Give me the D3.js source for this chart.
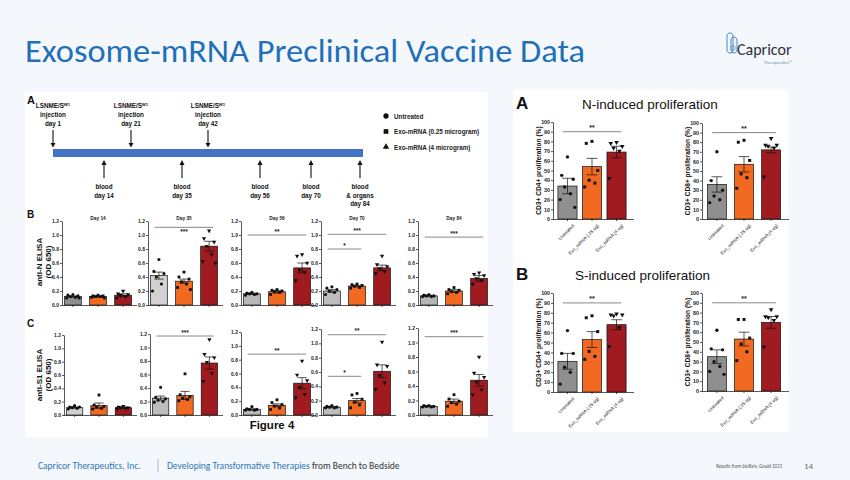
<!DOCTYPE html>
<html><head><meta charset="utf-8">
<script src="https://cdn.jsdelivr.net/npm/d3@7"></script>
<style>body{margin:0;background:#f4f8fc;} svg{display:block}</style>
</head><body><svg id="c" width="850" height="480"></svg>
<script>
// ---------------- DATA ----------------
const groups = ["Untreated", "Exo_mRNA (.25 ug)", "Exo_mRNA (4 ug)"];
const legendLabels = ["Untreated", "Exo-mRNA (0.25 microgram)", "Exo-mRNA (4 microgram)"];
const injectionDays = ["day 1", "day 21", "day 42"];
const bloodDays = [["blood","day 14"],["blood","day 35"],["blood","day 56"],["blood","day 70"],["blood","& organs","day 84"]];
const elisaDays = ["Day 14","Day 35","Day 56","Day 70","Day 84"];
const elisaTicks = [0, 0.2, 0.4, 0.6, 0.8, 1.0, 1.2];

const antiNMeans  = [[0.12,0.12,0.14],[0.42,0.34,0.84],[0.16,0.19,0.53],[0.20,0.27,0.53],[0.13,0.20,0.38]];
const antiNErrors = [[0.01,0.01,0.02],[0.05,0.03,0.07],[0.01,0.02,0.07],[0.02,0.01,0.04],[0.01,0.02,0.04]];
const antiNPoints = [
  [[0.15,0.14,0.13,0.12,0.11,0.10,0.10],[0.14,0.13,0.13,0.12,0.12,0.11,0.10],[0.20,0.16,0.15,0.14,0.12,0.10]],
  [[0.65,0.48,0.45,0.40,0.30,0.20],[0.47,0.40,0.37,0.33,0.30,0.25,0.22],[1.06,0.95,0.90,0.84,0.72,0.62,0.60]],
  [[0.18,0.17,0.16,0.16,0.15,0.14],[0.22,0.21,0.20,0.19,0.18,0.15],[0.72,0.70,0.60,0.50,0.47,0.35]],
  [[0.26,0.24,0.22,0.20,0.18,0.15],[0.30,0.29,0.28,0.27,0.25,0.24],[0.70,0.58,0.55,0.52,0.48,0.45]],
  [[0.15,0.14,0.13,0.13,0.12,0.12],[0.25,0.22,0.21,0.19,0.18,0.16],[0.46,0.44,0.42,0.38,0.35,0.30]]
];
const antiNSig = [[], [[0,2,1.11,"***",1]], [[0,2,1.0,"**",0]], [[0,2,1.01,"***",0],[0,1,0.80,"*",0]], [[0,2,0.97,"***",0]]];

const antiS1Means  = [[0.11,0.14,0.11],[0.25,0.29,0.77],[0.08,0.14,0.46],[0.11,0.20,0.61],[0.12,0.19,0.48]];
const antiS1Errors = [[0.01,0.04,0.01],[0.03,0.06,0.09],[0.01,0.02,0.08],[0.01,0.03,0.09],[0.01,0.03,0.08]];
const antiS1Points = [
  [[0.14,0.12,0.12,0.11,0.10,0.09],[0.30,0.15,0.13,0.12,0.10,0.09],[0.13,0.12,0.11,0.11,0.10,0.09]],
  [[0.41,0.26,0.24,0.22,0.20,0.19],[0.61,0.30,0.27,0.25,0.23,0.21],[1.12,0.90,0.85,0.78,0.62,0.50]],
  [[0.12,0.09,0.08,0.08,0.07,0.07],[0.22,0.18,0.15,0.13,0.10,0.08],[0.78,0.58,0.50,0.40,0.30,0.25]],
  [[0.13,0.12,0.11,0.11,0.10,0.10],[0.30,0.28,0.22,0.18,0.14,0.10],[1.02,0.70,0.68,0.55,0.45,0.36]],
  [[0.13,0.13,0.12,0.12,0.11,0.11],[0.28,0.22,0.19,0.17,0.15,0.12],[0.80,0.58,0.52,0.45,0.35,0.28]]
];
const antiS1Sig = [[], [[0,2,1.17,"***",0]], [[0,2,0.88,"**",0]], [[0,2,1.12,"**",0],[0,1,0.54,"*",0]], [[0,2,1.08,"***",0]]];

const prolifTicks = [0,10,20,30,40,50,60,70,80,90,100];
const nCD4Means = [34,54,69], nCD4Errors = [8,8.5,6];
const nCD4Points = [[64,45,41,33,26,20,12],[80,78,50,40,37,33],[79,78,75,73,70,42]];
const nCD8Means = [36,57,72], nCD8Errors = [8,8,3];
const nCD8Points = [[70,40,30,24,20,17],[82,80,61,47,43,32],[84,77,77,76,74,44]];
const sCD4Means = [31,53,68], sCD4Errors = [8,8,5];
const sCD4Points = [[62,39,39,25,20,8],[77,75,61,41,36,33],[79,78,78,77,65,46]];
const sCD8Means = [35,53,70], sCD8Errors = [7,7,6];
const sCD8Points = [[62,43,42,30,25,20,17],[73,73,54,48,40,31],[83,76,76,75,72,45]];
const prolifSig = [[0,2,90,"**",0]];

// ---------------- STYLE ----------------
const ORANGE = "#f26a22", RED = "#a01b20";
const FIG = "'Liberation Sans', Arial, sans-serif";
const SLIDE = "Carlito, Lato, 'Open Sans', sans-serif";

const svg = d3.select("#c");
svg.append("rect").attr("width",850).attr("height",480).attr("fill","#f4f8fc");

// title
svg.append("text").attr("x",25).attr("y",62).attr("font-family",SLIDE).attr("font-size",33)
  .attr("textLength",560).attr("lengthAdjust","spacingAndGlyphs")
  .attr("fill","#1f70b8").text("Exosome-mRNA Preclinical Vaccine Data");

// logo
const logo = svg.append("g");
logo.append("path").attr("d","M727,36 c0,-4 6,-4 6,0 l0,14 c0,4 -6,4 -6,0 z").attr("fill","none").attr("stroke","#4a86c5").attr("stroke-width",1);
logo.append("path").attr("d","M731,40 c0,-4 6,-4 6,0 l0,10 c0,4 -6,4 -6,0 z").attr("fill","none").attr("stroke","#4a86c5").attr("stroke-width",1);
logo.append("circle").attr("cx",733).attr("cy",48).attr("r",2.2).attr("fill","none").attr("stroke","#4a86c5").attr("stroke-width",0.8);
logo.append("text").attr("x",737).attr("y",55).attr("font-family",SLIDE).attr("font-size",16).attr("fill","#2b2f3a").text("Capricor");
logo.append("text").attr("x",764).attr("y",64).attr("font-family",SLIDE).attr("font-size",4.8).attr("fill","#6b8fb8").text("Therapeutics™");

// panels background
svg.append("rect").attr("x",25).attr("y",92).attr("width",463).attr("height",345).attr("fill","#ffffff");
svg.append("rect").attr("x",513).attr("y",90).attr("width",275).attr("height",342).attr("fill","#ffffff");

// ---------------- TIMELINE ----------------
const fig = svg.append("g").attr("font-family",FIG).attr("font-weight","bold").attr("fill","#111");
fig.append("text").attr("x",27).attr("y",104).attr("font-size",11).text("A");
fig.append("rect").attr("x",53).attr("y",149).attr("width",310).attr("height",8).attr("fill","#4472c4");
const injX = [53,131,208];
injectionDays.forEach((d,i)=>{
  const t = fig.append("text").attr("x",injX[i]).attr("y",108).attr("font-size",6.3).attr("text-anchor","middle");
  t.append("tspan").text("LSNME/S");
  t.append("tspan").attr("font-size",4.2).attr("dy",-2.2).text("W1");
  fig.append("text").attr("x",injX[i]).attr("y",117).attr("font-size",6.3).attr("text-anchor","middle").text("injection");
  fig.append("text").attr("x",injX[i]).attr("y",126).attr("font-size",6.3).attr("text-anchor","middle").text(d);
  fig.append("line").attr("x1",injX[i]).attr("x2",injX[i]).attr("y1",130).attr("y2",144).attr("stroke","#111").attr("stroke-width",1.1);
  fig.append("path").attr("d",`M${injX[i]-2.5},${143} L${injX[i]+2.5},${143} L${injX[i]},${147.5} Z`).attr("fill","#111");
});
const bloodX = [104,182,260,311,360];
bloodDays.forEach((lines,i)=>{
  fig.append("line").attr("x1",bloodX[i]).attr("x2",bloodX[i]).attr("y1",164).attr("y2",178).attr("stroke","#111").attr("stroke-width",1.1);
  fig.append("path").attr("d",`M${bloodX[i]-2.5},${165} L${bloodX[i]+2.5},${165} L${bloodX[i]},${160} Z`).attr("fill","#111");
  lines.forEach((l,j)=>fig.append("text").attr("x",bloodX[i]).attr("y",189+j*8.5).attr("font-size",6.3).attr("text-anchor","middle").text(l));
});
// legend
const legSym = [d3.symbolCircle, d3.symbolSquare, d3.symbolTriangle];
legendLabels.forEach((l,i)=>{
  fig.append("path").attr("d",d3.symbol().type(legSym[i]).size(i===2?18:22)()).attr("transform",`translate(386,${116+i*15.5})`).attr("fill","#111");
  fig.append("text").attr("x",394).attr("y",118.5+i*15.5).attr("font-size",6.3).attr("fill","#222").text(l);
});

// ---------------- BAR PANEL HELPER ----------------
const jit = [0,-0.3,0.3,-0.15,0.15,-0.38,0.38];
function barPanel(cfg){
  const g = svg.append("g").attr("font-family",FIG);
  const x = d3.scaleBand().domain(groups).range([cfg.x0,cfg.x1]).paddingInner(cfg.pin).paddingOuter(cfg.pout);
  const y = d3.scaleLinear().domain([0,cfg.max]).range([cfg.bottom,cfg.top]);
  const bw = x.bandwidth();
  g.selectAll("rect.bar").data(cfg.means).join("rect")
    .attr("x",(d,i)=>x(groups[i])).attr("y",d=>y(d)).attr("width",bw).attr("height",d=>cfg.bottom-y(d))
    .attr("fill",(d,i)=>cfg.fills[i]).attr("stroke","#111").attr("stroke-width",0.7);
  cfg.points.forEach((arr,gi)=>{
    const cx = x(groups[gi])+bw/2;
    const sym = d3.symbol().type(legSym[gi]).size(cfg.psize)();
    g.selectAll(null).data(arr).join("path").attr("d",sym)
      .attr("transform",(d,k)=>`translate(${cx+jit[k%7]*bw},${y(d)})`+(gi===2?" rotate(180)":""))
      .attr("fill","#111");
  });
  cfg.means.forEach((m,gi)=>{
    const cx = x(groups[gi])+bw/2, e = cfg.errs[gi], cw = bw*0.28;
    g.append("line").attr("x1",cx).attr("x2",cx).attr("y1",y(m-e)).attr("y2",y(m+e)).attr("stroke","#111").attr("stroke-width",0.7);
    [m-e,m+e].forEach(v=>g.append("line").attr("x1",cx-cw).attr("x2",cx+cw).attr("y1",y(v)).attr("y2",y(v)).attr("stroke","#111").attr("stroke-width",0.7));
  });
  const ya = g.append("g").attr("transform",`translate(${cfg.x0},0)`)
    .call(d3.axisLeft(y).tickValues(cfg.ticks).tickFormat(cfg.fmt).tickSize(2).tickSizeOuter(0).tickPadding(1));
  ya.selectAll("text").attr("font-size",cfg.tfs).attr("font-weight","bold").attr("font-family",FIG).attr("fill","#222");
  ya.selectAll("line,path").attr("stroke","#111").attr("stroke-width",0.7);
  const xa = g.append("g").attr("transform",`translate(0,${cfg.bottom})`)
    .call(d3.axisBottom(x).tickSize(2).tickSizeOuter(0).tickFormat(cfg.xlabels ? (d=>d) : ""));
  xa.selectAll("line,path").attr("stroke","#111").attr("stroke-width",0.7);
  xa.select("path").attr("d",`M${cfg.x0},0.5H${cfg.x1+3}`);
  if (cfg.xlabels){
    xa.selectAll("text").attr("font-size",4.6).attr("font-family",FIG).attr("fill","#222")
      .attr("text-anchor","end").attr("transform","translate(2,2) rotate(-45)").attr("dy","0.5em");
  }
  cfg.sig.forEach(s=>{
    const xa1 = x(groups[s[0]])+bw*0.25, xb = x(groups[s[1]])+bw*0.75, yy = y(s[2]);
    g.append("line").attr("x1",xa1).attr("x2",xb).attr("y1",yy).attr("y2",yy).attr("stroke","#555").attr("stroke-width",0.7);
    g.append("text").attr("x",(xa1+xb)/2).attr("y",s[4] ? yy+6.5 : yy-1.5).attr("text-anchor","middle")
      .attr("font-size",cfg.sfs).attr("font-weight","bold").attr("fill","#222").text(s[3]);
  });
  if (cfg.title) g.append("text").attr("x",(cfg.x0+cfg.x1)/2).attr("y",cfg.top-1).attr("text-anchor","middle")
    .attr("font-size",4.8).attr("font-weight","bold").attr("fill","#222").text(cfg.title);
  return g;
}

// ---------------- ELISA ROWS ----------------
const elisaAxisX = [62,148,241,321,418];
const grayB = ["#8e8e8e","#d2d2d2","#b9b9b9","#bdbdbd","#b5b5b5"];
const grayC = ["#cfcfcf","#bdbdbd","#b9b9b9","#bdbdbd","#b5b5b5"];
const topsC = [335,334,332,329,328];
fig.append("text").attr("x",27).attr("y",218).attr("font-size",10).text("B");
fig.append("text").attr("x",27).attr("y",327).attr("font-size",10).text("C");
elisaDays.forEach((d,i)=>{
  barPanel({x0:elisaAxisX[i], x1:elisaAxisX[i]+72, top:221, bottom:305, max:1.2, ticks:elisaTicks, fmt:d3.format(".1f"),
    means:antiNMeans[i], errs:antiNErrors[i], points:antiNPoints[i], sig:antiNSig[i], fills:[grayB[i],ORANGE,RED],
    pin:0.33, pout:0.1, psize:8, tfs:5, sfs:6.5, title:d});
  barPanel({x0:elisaAxisX[i]+(i<2?2:0), x1:elisaAxisX[i]+72, top:topsC[i], bottom:415, max:1.2, ticks:elisaTicks, fmt:d3.format(".1f"),
    means:antiS1Means[i], errs:antiS1Errors[i], points:antiS1Points[i], sig:antiS1Sig[i], fills:[grayC[i],ORANGE,RED],
    pin:0.33, pout:0.1, psize:8, tfs:5, sfs:6.5});
});
[["anti-N ELISA","(OD 650)",262],["anti-S1 ELISA","(OD 650)",375]].forEach(r=>{
  fig.append("text").attr("transform",`translate(42,${r[2]}) rotate(-90)`).attr("text-anchor","middle").attr("font-size",8).text(r[0]);
  fig.append("text").attr("transform",`translate(51,${r[2]}) rotate(-90)`).attr("text-anchor","middle").attr("font-size",8).text(r[1]);
});
fig.append("text").attr("x",272).attr("y",429).attr("text-anchor","middle").attr("font-size",11.5).text("Figure 4");

// ---------------- PROLIFERATION ----------------
const pf = [ "#8f8f8f", ORANGE, RED ];
const prolifPanels = [
  {x0:553,x1:631,top:122,bottom:219,means:nCD4Means,errs:nCD4Errors,points:nCD4Points,pin:0.22,pout:0.2,lab:"CD3+ CD4+ proliferation (%)",lx:541},
  {x0:702,x1:786,top:123,bottom:219,means:nCD8Means,errs:nCD8Errors,points:nCD8Points,pin:0.3,pout:0.2,lab:"CD3+ CD8+ proliferation (%)",lx:690},
  {x0:553,x1:631,top:293,bottom:392,means:sCD4Means,errs:sCD4Errors,points:sCD4Points,pin:0.22,pout:0.2,lab:"CD3+ CD4+ proliferation (%)",lx:541},
  {x0:702,x1:786,top:293,bottom:391,means:sCD8Means,errs:sCD8Errors,points:sCD8Points,pin:0.3,pout:0.2,lab:"CD3+ CD8+ proliferation (%)",lx:690}
];
prolifPanels.forEach(p=>{
  barPanel(Object.assign({max:100,ticks:prolifTicks,fmt:d3.format("d"),sig:prolifSig,fills:pf,psize:9,tfs:5.3,sfs:7,xlabels:true},p));
  fig.append("text").attr("transform",`translate(${p.lx},${(p.top+p.bottom)/2}) rotate(-90)`).attr("text-anchor","middle")
    .attr("font-size",6.6).text(p.lab);
});
const rt = svg.append("g").attr("font-family",FIG).attr("fill","#111");
rt.append("text").attr("x",516).attr("y",109).attr("font-size",17).attr("font-weight","bold").text("A");
rt.append("text").attr("x",582).attr("y",109).attr("font-size",13.5).text("N-induced proliferation");
rt.append("text").attr("x",516).attr("y",280).attr("font-size",17).attr("font-weight","bold").text("B");
rt.append("text").attr("x",575).attr("y",280).attr("font-size",13.5).text("S-induced proliferation");

// ---------------- FOOTER ----------------
const ft = svg.append("g").attr("font-family",SLIDE).attr("font-size",9.5);
ft.append("text").attr("x",38).attr("y",469).attr("fill","#2e75b6").text("Capricor Therapeutics, Inc.");
ft.append("line").attr("x1",158).attr("x2",158).attr("y1",459).attr("y2",472).attr("stroke","#8aa9c8").attr("stroke-width",0.8);
const ftt = ft.append("text").attr("x",167).attr("y",469);
ftt.append("tspan").attr("fill","#2e75b6").text("Developing Transformative Therapies ");
ftt.append("tspan").attr("fill","#333").text("from Bench to Bedside");
ft.append("text").attr("x",716).attr("y",468).attr("font-size",5).attr("font-style","italic").attr("fill","#555").text("Results from bioRxiv, Gould 2021");
ft.append("text").attr("x",804).attr("y",469).attr("font-size",9).attr("fill","#666").text("14");
</script></body></html>
